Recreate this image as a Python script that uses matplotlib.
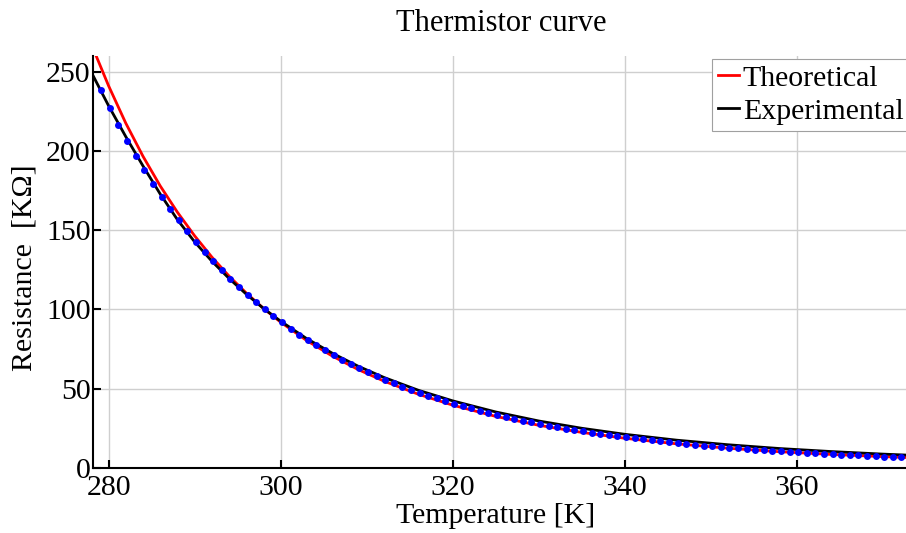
import numpy as np
import matplotlib
matplotlib.use("Agg")
import matplotlib.pyplot as plt

plt.rcParams['font.family'] = ['Liberation Serif', 'DejaVu Serif']
plt.rcParams['font.size'] = 21.5

# measured resistance [kOhm], one reading per degree from 6 C to 99 C
temp_meas_c = np.arange(6, 100)
r_meas = [238.5, 227.2, 216.6, 206.5, 197.0, 187.9, 179.3, 171.2, 163.5, 156.2,
          149.3, 142.7, 136.4, 130.5, 124.8, 119.3, 114.1, 109.2, 104.5, 100.0,
          95.7, 91.7, 87.8, 84.1, 80.6, 77.3, 74.1, 71.0, 68.1, 65.4,
          62.7, 60.2, 57.8, 55.5, 53.3, 51.2, 49.2, 47.3, 45.4, 43.7,
          42.0, 40.4, 38.8, 37.4, 35.9, 34.6, 33.3, 32.1, 30.9, 29.7,
          28.6, 27.6, 26.6, 25.6, 24.7, 23.8, 23.0, 22.1, 21.4, 20.6,
          19.9, 19.2, 18.5, 17.9, 17.3, 16.7, 16.1, 15.5, 15.0, 14.5,
          14.0, 13.5, 13.1, 12.7, 12.2, 11.8, 11.4, 11.1, 10.7, 10.4,
          10.0, 9.7, 9.4, 9.1, 8.8, 8.5, 8.3, 8.0, 7.75, 7.5,
          7.3, 7.05, 6.8, 6.6]

# the two curves, read at these temperatures [K]
temp_curve = [278.15, 280, 282, 284, 286, 288, 290, 292, 294, 296, 298, 300,
              303, 306, 309, 312, 316, 320, 325, 330, 335, 340, 346, 352,
              358, 364, 370, 373.15]
r_theoretical = [265.3, 241.1, 217.5, 196.6, 177.9, 161.3, 146.4, 133.0, 121.0,
                 110.3, 100.6, 91.9, 80.4, 70.5, 62.0, 54.7, 46.4, 39.5, 32.4,
                 26.8, 22.3, 18.6, 15.1, 12.3, 10.1, 8.39, 6.99, 6.37]
r_experimental = [248.0, 228.5, 209.0, 190.5, 172.8, 156.6, 142.6, 130.4, 119.5,
                  109.6, 100.6, 92.5, 81.6, 72.3, 64.1, 57.0, 48.9, 42.2, 35.2,
                  29.5, 24.9, 21.1, 17.4, 14.5, 12.1, 10.2, 8.59, 7.88]

temp_meas = temp_meas_c + 273.15

fig = plt.figure(figsize=(9.06, 5.33), dpi=100)
ax = fig.add_axes([0.1023, 0.1225, 0.9021, 0.7726])

ax.plot(temp_curve, r_theoretical, color='red', lw=2.0, label='Theoretical')
ax.plot(temp_curve, r_experimental, color='black', lw=2.0, label='Experimental')
ax.plot(temp_meas, r_meas, 'o', color='blue', ms=5, mew=0)

ax.set_xlim(278.15, 373.15)
ax.set_ylim(0, 260)
ax.set_xticks([280, 300, 320, 340, 360])
ax.set_yticks([0, 50, 100, 150, 200, 250])

ax.grid(True, color='#cfcfcf', lw=1.0)
ax.set_axisbelow(True)
for side in ['top', 'right']:
    ax.spines[side].set_visible(False)
for side in ['left', 'bottom']:
    ax.spines[side].set_linewidth(1.5)
ax.tick_params(direction='in', length=6, width=1.5)
ax.tick_params(axis='x', pad=5.5)
ax.tick_params(axis='y', pad=1.5)

ax.set_title('Thermistor curve', pad=18, fontsize=22)
ax.set_xlabel('Temperature [K]')
ax.xaxis.set_label_coords(0.4929, -0.1343)
ax.xaxis.label.set_verticalalignment('baseline')
ax.set_ylabel('Resistance  [KΩ]')
ax.yaxis.set_label_coords(-0.067, 0.4854)

leg = ax.legend(loc='upper left', bbox_to_anchor=(712 / 906, 1 - 59 / 533),
                bbox_transform=fig.transFigure, borderaxespad=0,
                handlelength=0.7, handletextpad=0.13, borderpad=0.2,
                labelspacing=0.2, fancybox=False, framealpha=1)
leg.get_frame().set_edgecolor('#a0a0a0')
leg.get_frame().set_linewidth(0.8)

fig.savefig('out.png', dpi=100)
